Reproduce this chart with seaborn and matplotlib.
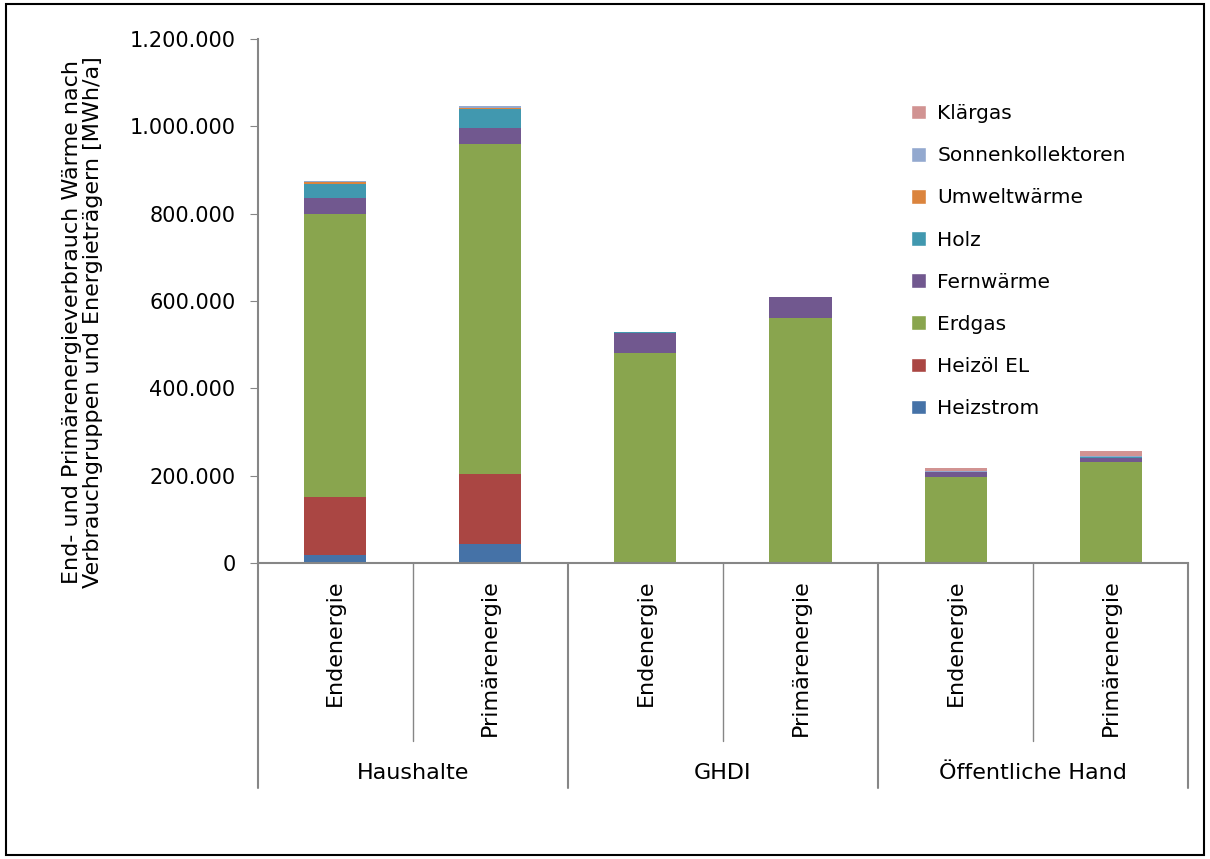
import numpy as np
import pandas as pd
import matplotlib
matplotlib.use("Agg")
import matplotlib.pyplot as plt
import matplotlib.transforms as mtransforms
from matplotlib.patches import Rectangle, Patch
from matplotlib.ticker import FuncFormatter
import seaborn as sns

# DATA (MWh/a)
groups = ["Haushalte", "GHDI", "Öffentliche Hand"]
kinds = ["Endenergie", "Primärenergie"]
bars = ["Haushalte\nEndenergie", "Haushalte\nPrimärenergie", "GHDI\nEndenergie",
        "GHDI\nPrimärenergie", "Öff\nEndenergie", "Öff\nPrimärenergie"]

carriers = ["Heizstrom", "Heizöl EL", "Erdgas", "Fernwärme", "Holz",
            "Umweltwärme", "Sonnenkollektoren", "Klärgas"]
heizstrom = [18000, 42800, 0, 0, 0, 0]
heizoel = [134000, 161700, 0, 0, 0, 0]
erdgas = [646500, 754300, 480000, 561700, 197600, 231300]
fernwaerme = [36500, 36600, 47800, 46700, 10000, 9800]
holz = [33600, 43600, 1000, 800, 1500, 1500]
umweltwaerme = [3000, 2300, 0, 0, 0, 0]
sonnenkollektoren = [3000, 4500, 0, 0, 1500, 2000]
klaergas = [1000, 1000, 0, 0, 6000, 12500]

colors = ["#4572A7", "#AA4643", "#89A54E", "#71588F", "#4198AF",
          "#DB843D", "#93A9CF", "#D19392"]

series = [heizstrom, heizoel, erdgas, fernwaerme, holz,
          umweltwaerme, sonnenkollektoren, klaergas]
cum = np.cumsum(np.array(series, dtype=float), axis=0)

sns.set_style("white")
plt.rcParams["font.family"] = ["DejaVu Sans"]
plt.rcParams["text.color"] = "black"
plt.rcParams["axes.labelcolor"] = "black"
plt.rcParams["xtick.color"] = "black"
plt.rcParams["ytick.color"] = "black"

fig = plt.figure(figsize=(12.1, 8.59), dpi=100)
ax = fig.add_axes([0.213, 0.3446, 0.769, 0.61])

# stacked bars: draw cumulative totals from the top series down
for i in range(len(carriers) - 1, -1, -1):
    df = pd.DataFrame({"bar": bars, "value": cum[i]})
    sns.barplot(data=df, x="bar", y="value", order=bars, color=colors[i],
                width=0.4, saturation=1, linewidth=0, ax=ax, errorbar=None)

ax.set_xlim(-0.5, 5.5)
ax.set_ylim(0, 1200000)
ax.set_yticks(np.arange(0, 1200001, 200000))
ax.yaxis.set_major_formatter(FuncFormatter(lambda v, p: f"{int(v):,}".replace(",", ".")))
ax.tick_params(axis="y", labelsize=15, length=6, color="#868686", left=True, pad=10)
ax.tick_params(axis="x", length=0)
ax.set_xticks(range(6))
ax.set_xticklabels([k for g in groups for k in kinds], rotation=90, fontsize=16)
ax.tick_params(axis="x", pad=12)
ax.set_xlabel("")
ax.set_ylabel("End- und Primärenergieverbrauch Wärme nach\nVerbrauchgruppen und Energieträgern [MWh/a]",
              fontsize=16, linespacing=1.05)
ax.yaxis.set_label_coords(-0.166, 0.46)
for s in ["top", "right"]:
    ax.spines[s].set_visible(False)
for s in ["left", "bottom"]:
    ax.spines[s].set_color("#868686")
    ax.spines[s].set_linewidth(1.5)

# multi-level category axis
trans = mtransforms.blended_transform_factory(ax.transData, ax.transAxes)
for x in [0.5, 2.5, 4.5]:
    ax.plot([x, x], [0, -0.34], color="#868686", lw=1, transform=trans, clip_on=False)
for x in [-0.5, 1.5, 3.5, 5.5]:
    ax.plot([x, x], [0, -0.43], color="#868686", lw=1.5, transform=trans, clip_on=False)
for gi, g in enumerate(groups):
    ax.text(gi * 2 + 0.5, -0.40, g, transform=trans, ha="center", va="center", fontsize=16)

# legend
handles = [Patch(facecolor=colors[i], label=carriers[i]) for i in range(len(carriers) - 1, -1, -1)]
fig.legend(handles=handles, loc="upper left", bbox_to_anchor=(0.738, 0.9), frameon=False,
           fontsize=14.5, handlelength=0.75, handleheight=0.75, handletextpad=0.55, labelspacing=1.15)

fig.patches.append(Rectangle((0.005, 0.005), 0.99, 0.99, transform=fig.transFigure,
                             fill=False, edgecolor="black", linewidth=1.5))

fig.savefig("out.png", dpi=100)
